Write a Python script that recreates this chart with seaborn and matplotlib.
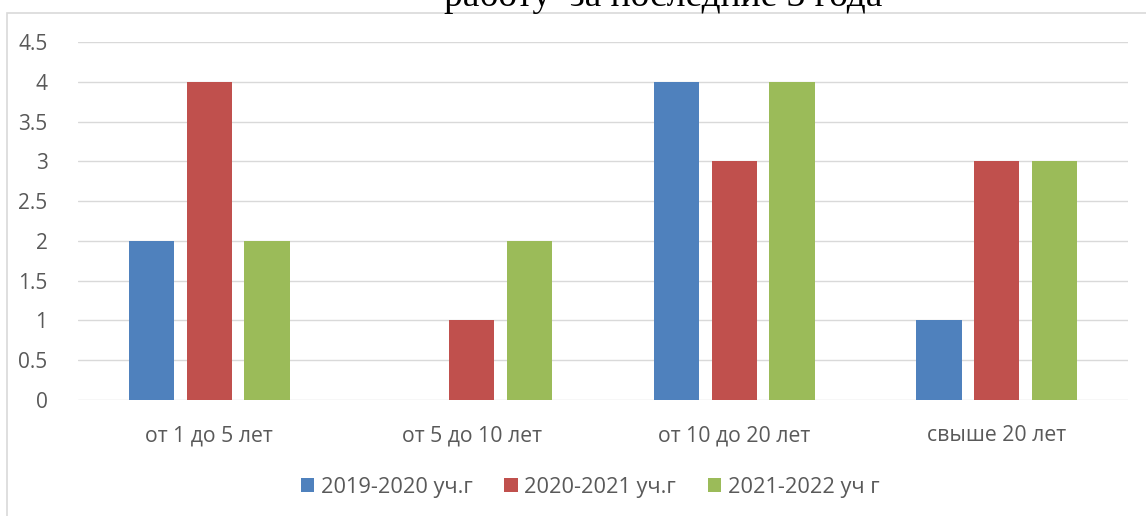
import matplotlib
matplotlib.use("Agg")
import matplotlib.pyplot as plt
import pandas as pd
import seaborn as sns
from matplotlib.patches import Rectangle

# --------------------------
# Data
# --------------------------
categories = ["от 1 до 5 лет", "от 5 до 10 лет", "от 10 до 20 лет", "свыше 20 лет"]
series = ["2019-2020 уч.г", "2020-2021 уч.г", "2021-2022 уч г"]
vals_2019 = [2, 0, 4, 1]
vals_2020 = [4, 1, 3, 3]
vals_2021 = [2, 2, 4, 3]
colors = ["#4F81BD", "#C0504D", "#9BBB59"]
yticks = [0, 0.5, 1, 1.5, 2, 2.5, 3, 3.5, 4, 4.5]

df = pd.DataFrame({
    "category": categories * 3,
    "series": [series[0]] * 4 + [series[1]] * 4 + [series[2]] * 4,
    "value": vals_2019 + vals_2020 + vals_2021,
})

sns.set_style("white")
plt.rcParams["font.family"] = ["Open Sans", "DejaVu Sans"]

W, H = 1146, 516
fig = plt.figure(figsize=(W / 100, H / 100), dpi=100)
ax = fig.add_axes([78 / W, 1 - 400 / H, 1050 / W, 358 / H])

sns.barplot(data=df, x="category", y="value", hue="series", palette=colors,
            order=categories, hue_order=series, width=0.66, gap=0.22,
            saturation=1, ax=ax, legend=True, edgecolor="none")

ax.set_xlim(-0.5, 3.5)
ax.set_ylim(0, 4.5)
ax.set_yticks(yticks)
ax.set_yticklabels([f"{t:g}" for t in yticks])
ax.yaxis.grid(True, color="#d9d9d9", linewidth=1)
ax.set_axisbelow(True)
for s in ax.spines.values():
    s.set_visible(False)
ax.tick_params(axis="y", length=0, pad=22, labelsize=15, labelcolor="#595959")
ax.tick_params(axis="x", length=0, pad=18, labelsize=15.3, labelcolor="#595959")
ax.set_xlabel("")
ax.set_ylabel("")

handles, labels = ax.get_legend_handles_labels()
ax.legend(handles, labels, loc="center", bbox_to_anchor=(590 / W, 1 - 487 / H),
          bbox_transform=fig.transFigure, ncol=3, frameon=False, fontsize=15.7,
          labelcolor="#595959", handlelength=0.62, handleheight=0.62,
          handletextpad=0.3, columnspacing=1.45)

# chart frame and clipped title
fig.patches.append(Rectangle((7 / W, -0.05), 1.1, 1 - 13 / H + 0.05,
                             transform=fig.transFigure, fill=False,
                             edgecolor="#d9d9d9", linewidth=1.2))
fig.text(663 / W, 1 - 6 / H, "работу  за последние 3 года", ha="center",
         va="baseline", fontsize=27, family=["Liberation Serif"], color="black")

fig.savefig("out.png", dpi=100)
